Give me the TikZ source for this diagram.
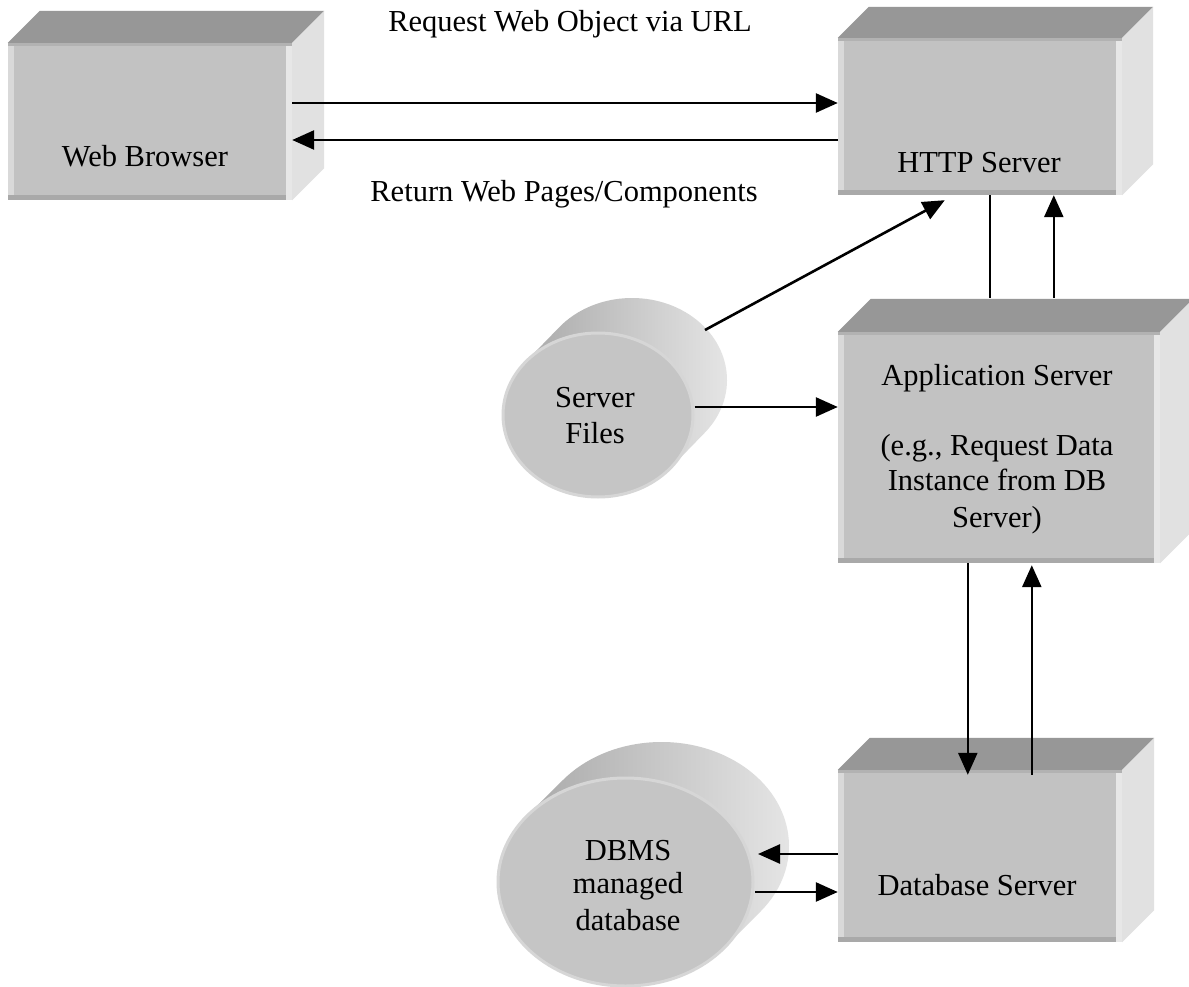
\documentclass[tikz,border=0pt]{standalone}
\usepackage{fontspec}
\setmainfont{Liberation Serif}
\usetikzlibrary{arrows.meta,calc,shapes.geometric}
\definecolor{frontc}{HTML}{C2C2C2}
\definecolor{topc}{HTML}{979797}
\definecolor{sidec}{HTML}{E1E1E1}
\definecolor{lstripc}{HTML}{D9D9D9}
\definecolor{rstripc}{HTML}{E7E7E7}
\definecolor{bstripc}{HTML}{A9A9A9}
\definecolor{tstripc}{HTML}{B2B2B2}
\definecolor{cyldark}{HTML}{A0A0A0}
\definecolor{cyllight}{HTML}{E8E8E8}
\definecolor{cylfront}{HTML}{C5C5C5}
\definecolor{cylrim}{HTML}{D6D6D6}
\newcommand\cubefaces[2]{%
  \fill[topc] (#1.north west) -- ++(#2,-#2) -- ($(#1.north east)+(#2,-#2)$) -- (#1.north east) -- cycle;
  \fill[sidec] (#1.north east) -- ++(#2,-#2) -- ($(#1.south east)+(#2,-#2)$) -- (#1.south east) -- cycle;
  \fill[lstripc] (#1.north west) rectangle ([xshift=6pt]#1.south west);
  \fill[rstripc] ([xshift=-6pt]#1.north east) rectangle (#1.south east);
  \fill[bstripc] ([yshift=5pt]#1.south west) rectangle ([xshift=-6pt]#1.south east);
  \fill[tstripc] (#1.north west) rectangle ([yshift=-3pt]#1.north east);
}
\tikzset{
  front/.style={rectangle, fill=frontc, inner sep=0pt},
  lbl/.style={font=\fontsize{30.5}{35}\selectfont, inner sep=0pt, anchor=base},
  arr/.style={-{Triangle[length=22pt,width=19pt]}, line width=2.6pt},
  link/.style={line width=2.6pt},
  cylside/.style={left color=cyldark, right color=cyllight},
  cylface/.style={ellipse, fill=cylfront, draw=cylrim, line width=3pt, inner sep=0pt},
}
\begin{document}
\begin{tikzpicture}[x=1pt,y=-1pt]
\useasboundingbox (0,0) rectangle (1189,987);
\clip (0,0) rectangle (1189,987);
\fill[white] (0,0) rectangle (1189,987);

% boxes
\node[front, minimum width=284pt, minimum height=157pt] (wb) at (150,121.5) {};
\cubefaces{wb}{32}
\node[front, minimum width=284pt, minimum height=157pt] (http) at (980,116.5) {};
\cubefaces{http}{31}
\node[front, minimum width=322pt, minimum height=231pt] (app) at (999,447.5) {};
\cubefaces{app}{33}
\node[front, minimum width=284pt, minimum height=172pt] (db) at (980,856) {};
\cubefaces{db}{32}

% cylinders
\coordinate (sfc) at (598,415);
\shade[cylside] (sfc) ++(140:95pt and 82pt) -- ++(34,-35)
  arc[start angle=140, end angle=-40, x radius=95pt, y radius=82pt] -- ++(-34,35)
  arc[start angle=-40, end angle=-220, x radius=95pt, y radius=82pt] -- cycle;
\node[cylface, minimum width=190pt, minimum height=164pt] (sf) at (sfc) {};

\coordinate (dbmsc) at (625.5,882);
\shade[cylside] (dbmsc) ++(140.8:127.5pt and 104pt) -- ++(36,-36)
  arc[start angle=140.8, end angle=-39.2, x radius=127.5pt, y radius=104pt] -- ++(-36,36)
  arc[start angle=-39.2, end angle=-219.2, x radius=127.5pt, y radius=104pt] -- cycle;
\node[cylface, minimum width=255pt, minimum height=208pt] (dbms) at (dbmsc) {};

% texts
\node[lbl] (wbt) at (145,167) {Web Browser};
\node[lbl] (httpt) at (979,173) {HTTP Server};
\node[lbl] (appt1) at (997,385) {Application Server};
\node[lbl] (appt2) at (997,455) {(e.g., Request Data};
\node[lbl] (appt3) at (997,490) {Instance from DB};
\node[lbl] (appt4) at (997,527) {Server)};
\node[lbl] (dbt) at (977,895) {Database Server};
\node[lbl] (sft1) at (595,407) {Server};
\node[lbl] (sft2) at (595,443) {Files};
\node[lbl] (dbmst1) at (628,860) {DBMS};
\node[lbl] (dbmst2) at (628,893) {managed};
\node[lbl] (dbmst3) at (628,930) {database};
\node[lbl] (req) at (570,32) {Request Web Object via URL};
\node[lbl] (ret) at (564,202) {Return Web Pages/Components};

% connectors
\coordinate (reqs) at ([yshift=18.5pt]wb.east);
\draw[arr] (reqs) -- (reqs -| http.west);
\coordinate (rets) at ([yshift=-23.5pt]http.west);
\draw[arr] (rets) -- (rets -| wb.east);

\coordinate (sfd) at ($(sfc)+(107,-85)$);
\coordinate (httpd) at ($(http.south west)+(107,5)$);
\draw[arr] (sfd) -- (httpd);

\coordinate (apptop) at ($(app.north)+(0,-34)$);
\coordinate (h1) at ($(http.south west)+(152,0)$);
\coordinate (h2) at ($(http.south west)+(216,0)$);
\draw[link] (h1) -- (h1 |- apptop);
\draw[arr] (h2 |- apptop) -- (h2);

\coordinate (sfe) at ([yshift=8pt]sf.east);
\draw[arr] (sfe) -- (sfe -| app.west);

\coordinate (dbin) at ($(db.north)+(0,5)$);
\coordinate (a1) at ($(app.south west)+(130,0)$);
\coordinate (a2) at ($(app.south west)+(194,2)$);
\draw[arr] (a1) -- (a1 |- dbin);
\draw[arr] (a2 |- dbin) -- (a2);

\coordinate (dbmsl) at ($(dbmsc)+(132.5,0)$);
\coordinate (dbmsr) at ($(dbmsc)+(129.5,0)$);
\coordinate (d1) at ([yshift=2pt]db.west);
\coordinate (d2) at ([yshift=-36pt]db.west);
\draw[arr] (d1) -- (d1 -| dbmsl);
\draw[arr] (d2 -| dbmsr) -- (d2);
\end{tikzpicture}
\end{document}
